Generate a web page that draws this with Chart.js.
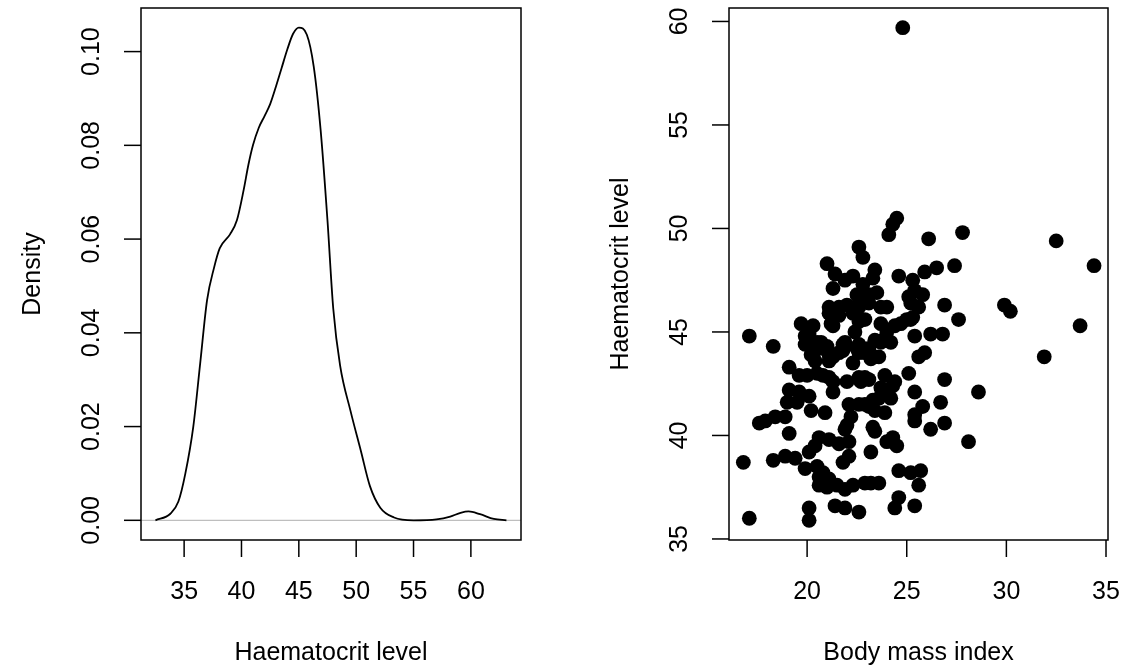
<!DOCTYPE html>
<html>
<head>
<meta charset="utf-8">
<script src="https://cdn.jsdelivr.net/npm/chart.js@4.4.0/dist/chart.umd.min.js"></script>
<style>
  body { margin: 0; background: #fff; }
  #wrap { position: relative; width: 1124px; height: 672px; }
  canvas { position: absolute; top: 0; }
</style>
</head>
<body>
<div id="wrap">
  <canvas id="densityChart" width="562" height="672" style="left:0"></canvas>
  <canvas id="scatterChart" width="562" height="672" style="left:562px"></canvas>
</div>
<script>
// density curve of haematocrit
const densityX = [32.5, 33.8, 34.5, 35.1, 35.8, 36.4, 37.0, 37.6, 38.1, 39.0, 39.6, 40.2, 40.6, 41.0, 41.5, 42.0, 42.5, 43.0, 43.5, 44.0, 44.5, 45.0, 45.7, 46.3, 46.9, 47.5, 48.0, 48.6, 49.5, 50.4, 51.2, 52.1, 53.3, 55.0, 57.0, 58.2, 59.1, 59.8, 60.8, 62.0, 63.1];
const densityY = [0.0000, 0.0014, 0.0040, 0.0099, 0.0200, 0.0335, 0.0470, 0.0538, 0.0580, 0.0610, 0.0640, 0.0706, 0.0758, 0.0800, 0.0837, 0.0862, 0.0888, 0.0925, 0.0965, 0.1005, 0.1038, 0.1051, 0.1036, 0.0968, 0.0833, 0.0639, 0.0452, 0.0330, 0.0234, 0.0149, 0.0073, 0.0027, 0.0006, 0.0000, 0.0002, 0.0008, 0.0016, 0.0019, 0.0013, 0.0003, 0.0000];

// scatter: body mass index vs haematocrit
const bmi = [16.8, 17.1, 17.1, 17.6, 17.9, 18.4, 18.9, 19.1, 18.3, 18.3, 18.9, 19.4, 19.1, 19.1, 19.6, 19.0, 19.5, 19.6, 20.0, 20.5,
  20.8, 21.1, 21.3, 20.1, 21.3, 20.2, 20.9, 19.9, 20.5, 20.1, 20.4, 20.6, 21.1, 21.6, 22.1, 21.9, 21.8, 22.1, 20.6, 20.8,
  21.1, 20.6, 21.0, 21.5, 21.9, 22.3, 22.9, 20.1, 20.1, 21.4, 21.9, 22.6, 23.2, 23.6, 23.2, 23.4, 24.0, 24.3, 24.5, 24.6,
  25.2, 25.7, 25.6, 24.6, 24.4, 25.4, 26.2, 28.1, 26.9, 25.4, 25.4, 25.8, 26.7, 26.9, 28.6, 25.4, 25.1, 25.6, 25.9, 25.4,
  26.2, 26.8, 27.6, 26.9, 29.9, 30.2, 33.7, 31.9, 32.5, 34.4, 27.4, 26.5, 25.9, 25.3, 24.6, 27.8, 26.1, 24.8, 24.5, 24.3,
  24.1, 22.6, 22.8, 21.0, 21.4, 21.3, 21.9, 22.3, 22.8, 23.4, 23.3, 22.5, 22.8, 23.5, 23.1, 25.1, 25.4, 25.8, 25.2, 25.6,
  24.0, 23.7, 21.1, 22.0, 22.4, 21.1, 21.3, 19.7, 20.3, 19.9, 19.9, 20.6, 20.8, 20.4, 21.1, 20.1, 20.5, 21.0, 21.2, 21.6,
  21.9, 21.8, 21.1, 20.4, 20.2, 22.0, 22.6, 22.5, 22.6, 22.4, 22.9, 23.7, 24.4, 24.7, 25.2, 23.4, 24.2, 23.8, 22.9, 23.2,
  23.6, 22.9, 23.9, 24.4, 23.7, 24.2, 23.6, 22.9, 23.4, 23.9, 23.3, 22.1, 22.6, 22.0, 22.3, 22.6, 23.0, 23.4, 23.1, 22.7,
  23.1, 22.2, 23.3, 23.8, 24.3, 24.0, 25.0, 25.3, 20.7, 21.3, 21.6, 21.8, 22.6, 23.1, 23.7, 22.3, 21.6, 22.6, 23.1];
const haematocrit = [38.7, 36.0, 44.8, 40.6, 40.7, 40.9, 40.9, 40.1, 44.3, 38.8, 39.0, 38.9, 43.3, 42.2, 42.1, 41.6, 41.6, 42.9, 42.9, 43.0,
  42.9, 42.8, 42.6, 41.9, 42.1, 41.2, 41.1, 38.4, 38.5, 39.2, 39.5, 39.9, 39.8, 39.6, 39.7, 40.3, 38.7, 39.0, 38.0, 38.2,
  37.9, 37.6, 37.5, 37.6, 37.4, 37.6, 37.7, 36.5, 35.9, 36.6, 36.5, 36.3, 37.7, 37.7, 39.2, 40.2, 39.7, 39.9, 39.5, 38.3,
  38.2, 38.3, 37.6, 37.0, 36.5, 36.6, 40.3, 39.7, 40.6, 40.7, 41.0, 41.4, 41.6, 42.7, 42.1, 42.1, 43.0, 43.8, 44.0, 44.8,
  44.9, 44.9, 45.6, 46.3, 46.3, 46.0, 45.3, 43.8, 49.4, 48.2, 48.2, 48.1, 47.9, 47.5, 47.7, 49.8, 49.5, 59.7, 50.5, 50.2,
  49.7, 49.1, 48.6, 48.3, 47.8, 47.1, 47.5, 47.7, 47.3, 48.0, 47.6, 46.8, 46.6, 46.9, 46.8, 46.7, 47.0, 46.8, 46.4, 46.2,
  46.2, 46.2, 46.2, 46.3, 46.2, 45.9, 45.3, 45.4, 45.3, 44.8, 44.4, 44.4, 44.2, 43.6, 43.6, 44.9, 44.5, 44.3, 45.4, 45.8,
  44.5, 44.1, 43.9, 44.1, 43.9, 42.6, 42.8, 44.2, 45.5, 45.0, 45.6, 45.4, 45.3, 45.4, 45.6, 44.6, 44.5, 44.6, 44.0, 43.7,
  43.8, 42.8, 42.9, 42.6, 42.3, 41.8, 41.8, 41.5, 41.2, 41.1, 40.4, 41.5, 41.5, 40.5, 43.5, 44.0, 44.1, 43.8, 42.7, 42.6,
  41.4, 40.9, 41.7, 42.2, 42.4, 45.0, 45.6, 45.7, 44.5, 43.8, 44.0, 44.4, 44.4, 44.2, 44.5, 45.9, 46.2, 46.2, 46.4];

// axis ticks
const densityXTicks = [35, 40, 45, 50, 55, 60];
const densityYTicks = [0, 0.02, 0.04, 0.06, 0.08, 0.10];
const densityYLabels = ['0.00', '0.02', '0.04', '0.06', '0.08', '0.10'];
const bmiTicks = [20, 25, 30, 35];
const hctTicks = [35, 40, 45, 50, 55, 60];

const FONT = '25px "Liberation Sans", Arial, Helvetica, sans-serif';
const TICK = 17;

// R style box, ticks, rotated y labels and axis titles
const rAxes = {
  id: 'rAxes',
  beforeDatasetsDraw(chart, args, opts) {
    if (opts.zeroLine === undefined) return;
    const { ctx, chartArea: a, scales: { y } } = chart;
    const py = y.getPixelForValue(opts.zeroLine);
    ctx.save();
    ctx.strokeStyle = '#bebebe';
    ctx.lineWidth = 1.2;
    ctx.beginPath();
    ctx.moveTo(a.left, py);
    ctx.lineTo(a.right, py);
    ctx.stroke();
    ctx.restore();
  },
  afterDatasetsDraw(chart, args, opts) {
    const { ctx, chartArea: a, scales: { x, y } } = chart;
    ctx.save();
    ctx.strokeStyle = '#000';
    ctx.fillStyle = '#000';
    ctx.lineWidth = 1.5;
    ctx.strokeRect(a.left, a.top, a.right - a.left, a.bottom - a.top);
    ctx.font = FONT;
    ctx.textAlign = 'center';
    ctx.textBaseline = 'middle';

    opts.xTicks.forEach((v, i) => {
      const px = x.getPixelForValue(v);
      ctx.beginPath();
      ctx.moveTo(px, a.bottom);
      ctx.lineTo(px, a.bottom + TICK);
      ctx.stroke();
      ctx.fillText(opts.xLabels[i], px, a.bottom + 52);
    });

    opts.yTicks.forEach((v, i) => {
      const py = y.getPixelForValue(v);
      ctx.beginPath();
      ctx.moveTo(a.left, py);
      ctx.lineTo(a.left - TICK, py);
      ctx.stroke();
      ctx.save();
      ctx.translate(a.left - 49, py);
      ctx.rotate(-Math.PI / 2);
      ctx.fillText(opts.yLabels[i], 0, 0);
      ctx.restore();
    });

    ctx.fillText(opts.xTitle, (a.left + a.right) / 2, a.bottom + 113);
    ctx.save();
    ctx.translate(a.left - 108, (a.top + a.bottom) / 2);
    ctx.rotate(-Math.PI / 2);
    ctx.fillText(opts.yTitle, 0, 0);
    ctx.restore();
    ctx.restore();
  }
};

new Chart(document.getElementById('densityChart'), {
  type: 'line',
  data: {
    datasets: [{
      data: densityX.map((v, i) => ({ x: v, y: densityY[i] })),
      borderColor: '#000',
      borderWidth: 1.8,
      pointRadius: 0,
      fill: false,
      cubicInterpolationMode: 'monotone'
    }]
  },
  options: {
    responsive: false,
    animation: false,
    events: [],
    layout: { padding: { left: 141, top: 8, right: 41, bottom: 132 } },
    scales: {
      x: { type: 'linear', display: false, min: 31.24, max: 64.37 },
      y: { type: 'linear', display: false, min: -0.0042, max: 0.1093 }
    },
    plugins: {
      legend: { display: false },
      tooltip: { enabled: false },
      rAxes: {
        zeroLine: 0,
        xTicks: densityXTicks,
        xLabels: densityXTicks.map(String),
        yTicks: densityYTicks,
        yLabels: densityYLabels,
        xTitle: 'Haematocrit level',
        yTitle: 'Density'
      }
    }
  },
  plugins: [rAxes]
});

new Chart(document.getElementById('scatterChart'), {
  type: 'scatter',
  data: {
    datasets: [{
      data: bmi.map((v, i) => ({ x: v, y: haematocrit[i] })),
      backgroundColor: '#000',
      borderWidth: 0,
      pointRadius: 7.4
    }]
  },
  options: {
    responsive: false,
    animation: false,
    events: [],
    layout: { padding: { left: 167, top: 8, right: 16, bottom: 132 } },
    scales: {
      x: { type: 'linear', display: false, min: 16.08, max: 35.1 },
      y: { type: 'linear', display: false, min: 34.95, max: 60.65 }
    },
    plugins: {
      legend: { display: false },
      tooltip: { enabled: false },
      rAxes: {
        xTicks: bmiTicks,
        xLabels: bmiTicks.map(String),
        yTicks: hctTicks,
        yLabels: hctTicks.map(String),
        xTitle: 'Body mass index',
        yTitle: 'Haematocrit level'
      }
    }
  },
  plugins: [rAxes]
});
</script>
</body>
</html>
